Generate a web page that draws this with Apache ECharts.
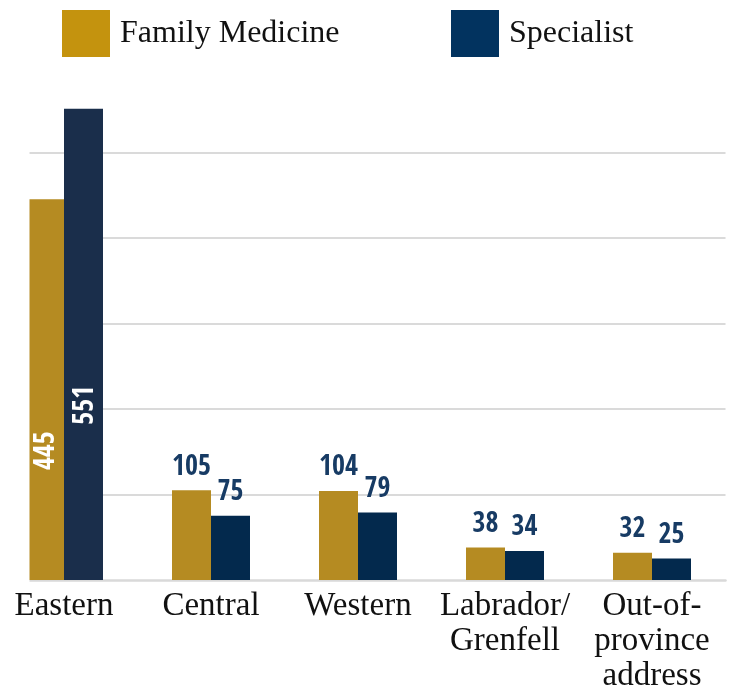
<!DOCTYPE html>
<html>
<head>
<meta charset="utf-8">
<script src="https://cdn.jsdelivr.net/npm/echarts@6/dist/echarts.min.js"></script>
<style>
html,body{margin:0;padding:0;background:#fff;}
#chart{width:733px;height:685px;}
</style>
</head>
<body>
<div id="chart"></div>
<script>
const categories = ['Eastern', 'Central', 'Western', 'Labrador/\nGrenfell', 'Out-of-\nprovince\naddress'];
const seriesNames = ['Family Medicine', 'Specialist'];
const familyMedicine = [445, 105, 104, 38, 32];
const specialist = [551, 75, 79, 34, 25];
const yTicks = [0, 100, 200, 300, 400, 500];

const GOLD = '#B58B22';
const NAVY = '#03294D';
const NAVY_DARK = '#1A2E4B';
const LABEL_COLOR = '#173B64';
const numFont = '"Open Sans Condensed", "Roboto Condensed", "DejaVu Sans Condensed", sans-serif';
const serifFont = '"Liberation Serif", "DejaVu Serif", serif';

function buildData(values, colorFirst) {
  return values.map(function (v, i) {
    const d = { value: v };
    if (i === 0) {
      d.itemStyle = { color: colorFirst };
      d.label = {
        position: 'inside',
        rotate: 90,
        color: '#ffffff',
        offset: [-61, 2],
        align: 'center',
        verticalAlign: 'middle'
      };
    }
    return d;
  });
}

const chart = echarts.init(document.getElementById('chart'));
const option = {
  animation: false,
  backgroundColor: '#ffffff',
  legend: [
    {
      data: [{ name: seriesNames[0], itemStyle: { color: '#C4930E' } }],
      left: 62, top: 10, padding: 0,
      itemWidth: 48, itemHeight: 47,
      icon: 'rect',
      textStyle: { fontFamily: serifFont, fontSize: 32, color: '#111', padding: [0, 0, 0, 5] }
    },
    {
      data: [{ name: seriesNames[1], itemStyle: { color: '#02335F' } }],
      left: 451, top: 10, padding: 0,
      itemWidth: 48, itemHeight: 47,
      icon: 'rect',
      textStyle: { fontFamily: serifFont, fontSize: 32, color: '#111', padding: [0, 0, 0, 5] }
    }
  ],
  grid: { left: -9.5, right: 7.5, top: 101, bottom: 105, containLabel: false, outerBoundsMode: 'none' },
  xAxis: {
    type: 'category',
    data: categories,
    axisTick: { show: false },
    axisLine: { show: true, lineStyle: { color: '#D9D9D9', width: 2.5 } },
    axisLabel: {
      interval: 0,
      margin: 9,
      fontFamily: serifFont,
      fontSize: 33,
      lineHeight: 35,
      color: '#111',
      align: 'center'
    }
  },
  yAxis: {
    type: 'value',
    min: yTicks[0],
    max: 560,
    interval: yTicks[1] - yTicks[0],
    axisLabel: { show: false },
    axisLine: { show: false },
    axisTick: { show: false },
    splitLine: { show: true, showMinLine: false, showMaxLine: false, lineStyle: { color: '#DADADA', width: 2 } }
  },
  series: [
    {
      name: seriesNames[0],
      type: 'bar',
      barWidth: 39,
      barGap: '0%',
      itemStyle: { color: GOLD },
      label: {
        show: true, position: 'top', distance: 9,
        fontFamily: numFont, fontWeight: 'bold', fontSize: 28, color: LABEL_COLOR
      },
      data: buildData(familyMedicine, GOLD)
    },
    {
      name: seriesNames[1],
      type: 'bar',
      barWidth: 39,
      barGap: '0%',
      itemStyle: { color: NAVY },
      label: {
        show: true, position: 'top', distance: 9,
        fontFamily: numFont, fontWeight: 'bold', fontSize: 28, color: LABEL_COLOR
      },
      data: buildData(specialist, NAVY_DARK)
    }
  ],
  graphic: [
    {
      type: 'rect', z: 100,
      shape: { x: 0, y: 90, width: 29.5, height: 494 },
      style: { fill: '#ffffff' }
    }
  ]
};
chart.setOption(option);
</script>
</body>
</html>
